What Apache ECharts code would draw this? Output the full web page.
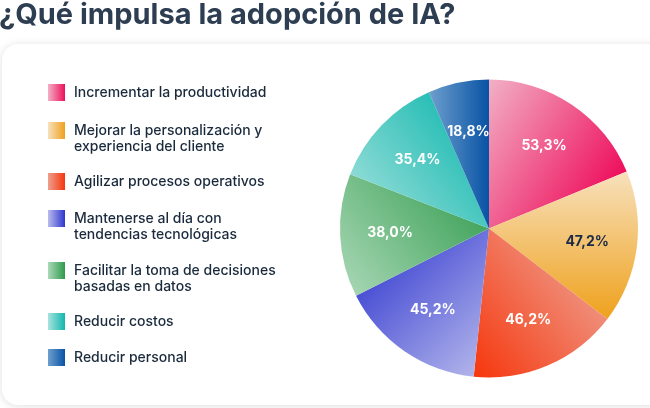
<!DOCTYPE html>
<html>
<head>
<meta charset="utf-8">
<script src="https://cdn.jsdelivr.net/npm/echarts@6/dist/echarts.min.js"></script>
<style>
html,body{margin:0;padding:0;background:#ffffff;}
#chart{width:650px;height:408px;}
</style>
</head>
<body>
<div id="chart"></div>
<script>
const titleText = '¿Qué impulsa la adopción de IA?';
const categories = [
  'Incrementar la productividad',
  'Mejorar la personalización y\nexperiencia del cliente',
  'Agilizar procesos operativos',
  'Mantenerse al día con\ntendencias tecnológicas',
  'Facilitar la toma de decisiones\nbasadas en datos',
  'Reducir costos',
  'Reducir personal'
];
const values = [53.3, 47.2, 46.2, 45.2, 38.0, 35.4, 18.8];
const lightColors = ['#f2b0c6', '#f7e1bd', '#ee9f8f', '#b9bcec', '#acd9b8', '#a9e3de', '#6e9fcd'];
const darkColors  = ['#ee0f5c', '#efa11c', '#f6360c', '#2f35cf', '#2e9a4b', '#0fb7ae', '#0853a5'];
// gradient direction per slice (light point -> dark point, in slice bbox)
const gradDirs = [
  [0, 0, 1, 0.6],
  [0.5, 0, 0.5, 1],
  [1, 0.3, 0, 1],
  [1, 1, 0, 0.1],
  [0, 1, 1, 0],
  [0, 1, 1, 0.2],
  [0, 0.3, 1, 0.3]
];
const labelColors = ['#ffffff', '#1b2a48', '#ffffff', '#ffffff', '#ffffff', '#ffffff', '#ffffff'];
const legendIconTops = [84, 122, 173, 210, 262, 313, 349];

function grad(i, dir) {
  return new echarts.graphic.LinearGradient(dir[0], dir[1], dir[2], dir[3], [
    {offset: 0, color: lightColors[i]},
    {offset: 1, color: darkColors[i]}
  ]);
}

const chart = echarts.init(document.getElementById('chart'), null, {renderer: 'canvas'});

const pieData = categories.map((c, i) => ({
  name: c,
  value: values[i],
  itemStyle: {color: grad(i, gradDirs[i])}
}));
const labelData = categories.map((c, i) => ({
  name: c,
  value: values[i],
  label: {color: labelColors[i]}
}));

// square on top, empty space below, so the square lines up with the first text line
const tallIcon = 'path://M0,0L17,0L17,17L0,17Z M0,33L17,33';

const legends = categories.map((c, i) => {
  const multi = c.indexOf('\n') >= 0;
  return {
    left: 48,
    top: legendIconTops[i],
    padding: 0,
    orient: 'vertical',
    icon: multi ? tallIcon : 'rect',
    itemWidth: 17,
    itemHeight: multi ? 33 : 17,
    selectedMode: false,
    itemStyle: {borderWidth: 0},
    data: [{name: c, itemStyle: {color: grad(i, [0, 0, 1, 0]), borderWidth: 0}}],
    textStyle: {
      fontFamily: 'Inter',
      fontSize: 14,
      fontWeight: 500,
      color: '#1a2a3c',
      lineHeight: 16,
      padding: [0, 0, 0, 4]
    }
  };
});

chart.setOption({
  animation: false,
  backgroundColor: '#ffffff',
  title: {
    text: titleText,
    left: -1,
    top: 1,
    padding: 0,
    textStyle: {fontFamily: 'Inter', fontSize: 29, fontWeight: 700, color: '#2e3e52', letterSpacing: 0.5}
  },
  graphic: [{
    type: 'rect',
    z: -10,
    silent: true,
    shape: {x: 2, y: 44, width: 720, height: 361, r: 16},
    style: {fill: '#ffffff', shadowBlur: 8, shadowColor: 'rgba(0,0,0,0.13)', shadowOffsetY: 1}
  }],
  legend: legends,
  series: [
    {
      type: 'pie',
      center: [489, 228.5],
      radius: [0, 149],
      startAngle: 90,
      clockwise: true,
      label: {show: false},
      labelLine: {show: false},
      itemStyle: {borderWidth: 0},
      emphasis: {disabled: true},
      data: pieData
    },
    {
      type: 'pie',
      center: [489, 228.5],
      radius: [46, 146],
      startAngle: 90,
      clockwise: true,
      silent: true,
      itemStyle: {color: 'rgba(0,0,0,0)'},
      labelLine: {show: false},
      emphasis: {disabled: true},
      label: {
        show: true,
        position: 'inside',
        fontFamily: 'Inter',
        fontSize: 14,
        fontWeight: 700,
        formatter: p => p.value.toFixed(1).replace('.', ',') + '%'
      },
      data: labelData
    }
  ]
});
</script>
</body>
</html>
